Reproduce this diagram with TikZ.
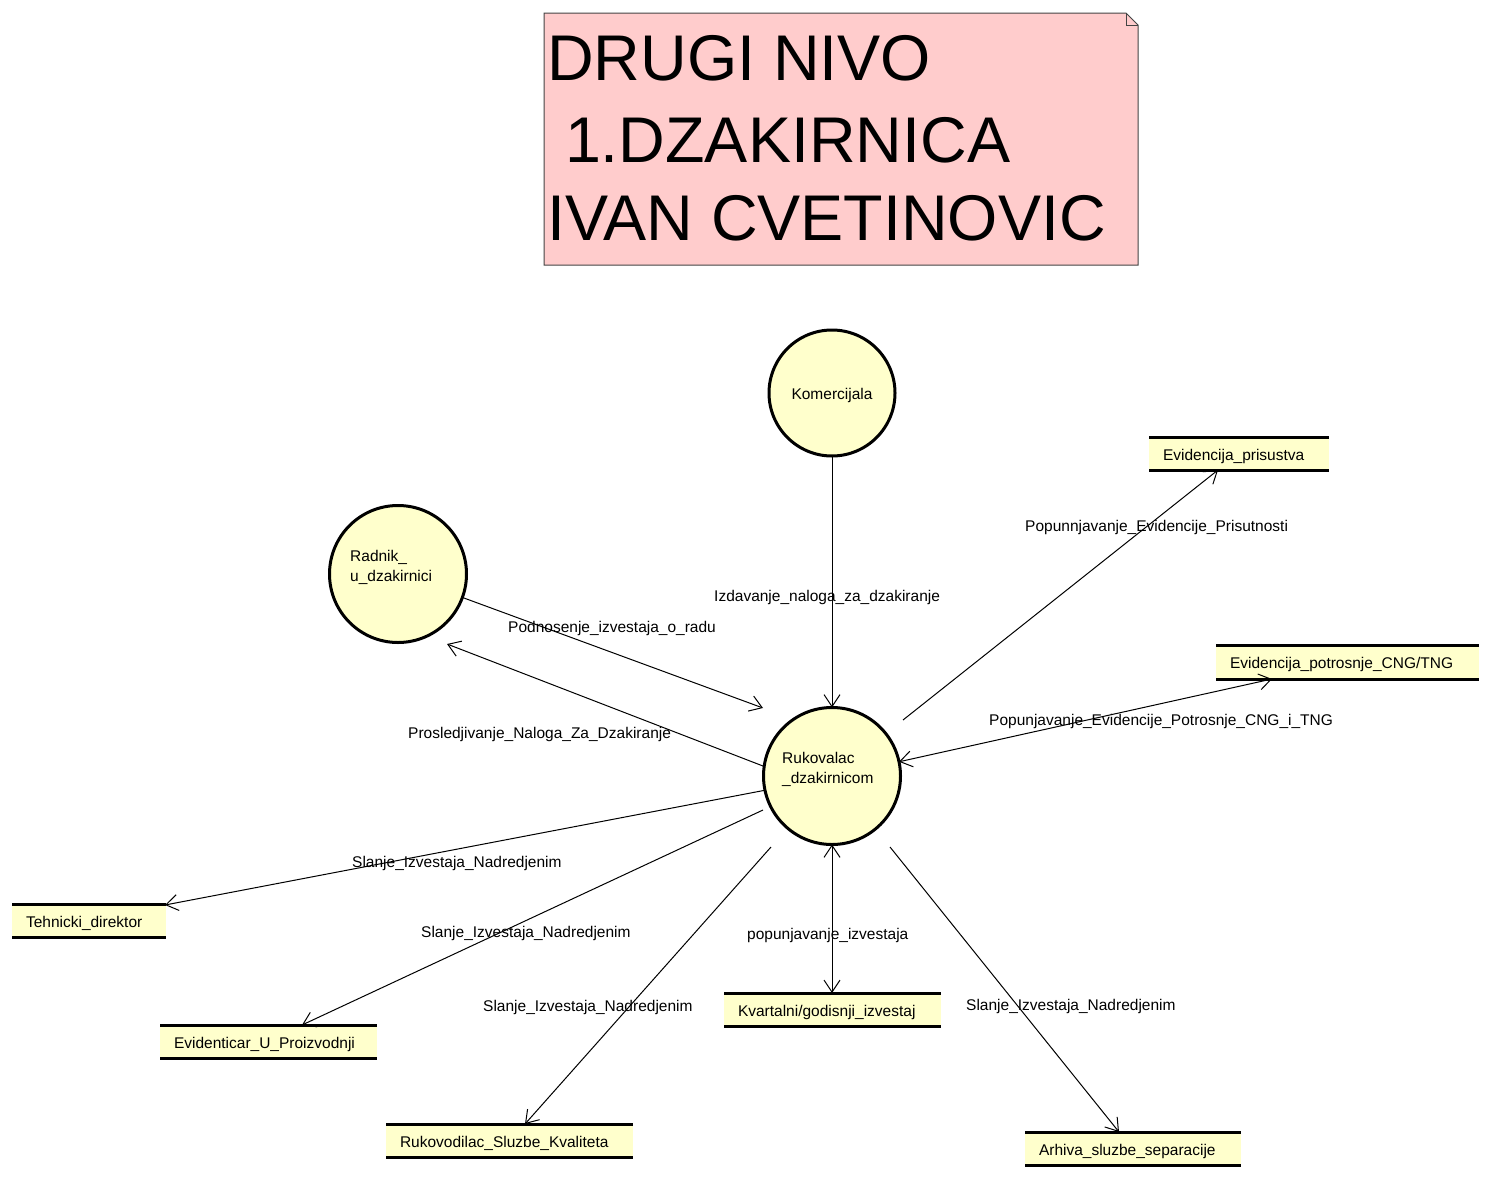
\documentclass[tikz,border=0pt]{standalone}
\usepackage{fontspec}
\setmainfont{Liberation Sans}
\usetikzlibrary{arrows.meta}
\definecolor{notefill}{HTML}{FFCCCC}
\definecolor{bubble}{HTML}{FFFFCC}
\definecolor{notedraw}{HTML}{444444}
\begin{document}
\begin{tikzpicture}[x=1pt,y=-1pt,
  smalltext/.style={font=\fontsize{15.5}{20}\selectfont},
  proc/.style={circle, draw=black, line width=3pt, fill=bubble, inner sep=0pt, outer sep=0pt},
  store/.style={fill=bubble, anchor=north west, inner xsep=14pt, inner ysep=0pt, outer sep=0pt, align=left, text height=13.5pt, text depth=0pt, smalltext},
  storeline/.style={line width=3pt, line cap=butt},
  lbl/.style={anchor=west, inner sep=0pt, smalltext},
  ptext/.style={anchor=west, inner sep=0pt, align=left, smalltext},
  titletext/.style={anchor=base west, inner sep=0pt, font=\fontsize{64.6}{80}\selectfont},
  flow/.style={line width=1pt, -{Straight Barb[length=12pt,width=16pt,line width=1pt]}},
  flowboth/.style={line width=1pt, {Straight Barb[length=12pt,width=16pt,line width=1pt]}-{Straight Barb[length=12pt,width=16pt,line width=1pt]}},
]
\useasboundingbox (0,0) rectangle (1492,1178);
\fill[white] (0,0) rectangle (1492,1178);

% title note
\draw[notedraw, line width=1pt, fill=notefill] (544,13) -- (1126,13) -- (1138,25) -- (1138,265) -- (544,265) -- cycle;
\draw[notedraw, line width=0.8pt] (1126,13) -- (1126,25) -- (1138,25);
\node[titletext] (t1) at (547,80) {DRUGI NIVO};
\node[titletext] (t2) at (547,162) {\hspace*{17.8pt}1.DZAKIRNICA};
\node[titletext] (t3) at (547,240) {IVAN CVETINOVIC};

% processes
\node[proc, minimum size=126pt] (kom) at (832,393) {};
\node[smalltext, inner sep=0pt] (komt) at (832,395) {Komercijala};
\node[proc, minimum size=137pt] (rad) at (398,574) {};
\node[ptext] (radt) at (350,567) {Radnik\_\\u\_dzakirnici};
\node[proc, minimum size=137pt] (ruk) at (832,776) {};
\node[ptext] (rukt) at (782,769) {Rukovalac\\\_dzakirnicom};

% data stores
\node[store, minimum height=33pt, text width=152pt] (evp) at (1149,437) {Evidencija\_prisustva};
\node[store, minimum height=34pt, text width=235pt] (ecng) at (1216,645) {Evidencija\_potrosnje\_CNG/TNG};
\node[store, minimum height=33pt, text width=126pt] (teh) at (12,904) {Tehnicki\_direktor};
\node[store, minimum height=33pt, text width=189pt] (evi) at (160,1025) {Evidenticar\_U\_Proizvodnji};
\node[store, minimum height=33pt, text width=219pt] (rsk) at (386,1124) {Rukovodilac\_Sluzbe\_Kvaliteta};
\node[store, minimum height=33pt, text width=189pt] (kvr) at (724,993) {Kvartalni/godisnji\_izvestaj};
\node[store, minimum height=33pt, text width=188pt] (arh) at (1025,1132) {Arhiva\_sluzbe\_separacije};
\foreach \s in {evp,ecng,teh,evi,rsk,kvr,arh}{
  \draw[storeline] (\s.north west) -- (\s.north east);
  \draw[storeline] (\s.south west) -- (\s.south east);
}

% free connector ends
\coordinate (a2) at (763,708);
\coordinate (a3) at (447,644);
\coordinate (s4) at (903,720);
\coordinate (a4) at (1218,470);
\coordinate (a5) at (1272,679);
\coordinate (a6) at (165,905);
\coordinate (s7) at (763,810);
\coordinate (a7) at (302,1025);
\coordinate (s8) at (771,847);
\coordinate (a8) at (525,1124);
\coordinate (a9) at (832,993);
\coordinate (s10) at (890,847);
\coordinate (a10) at (1119,1132);

% connectors
\draw[flow] (kom.south) -- (ruk.north);
\draw[flow] (rad.-20) -- (a2);
\draw[flow] (ruk.172) -- (a3);
\draw[flow] (s4) -- (a4);
\draw[flowboth] (ruk.12) -- (a5);
\draw[flow] (ruk.192) -- (a6);
\draw[flow] (s7) -- (a7);
\draw[flow] (s8) -- (a8);
\draw[flowboth] (ruk.south) -- (a9);
\draw[flow] (s10) -- (a10);

% labels
\node[lbl] (l1) at (714,597) {Izdavanje\_naloga\_za\_dzakiranje};
\node[lbl] (l2) at (508,628) {Podnosenje\_izvestaja\_o\_radu};
\node[lbl] (l3) at (408,734) {Prosledjivanje\_Naloga\_Za\_Dzakiranje};
\node[lbl] (l4) at (1025,527) {Popunnjavanje\_Evidencije\_Prisutnosti};
\node[lbl] (l5) at (989,721) {Popunjavanje\_Evidencije\_Potrosnje\_CNG\_i\_TNG};
\node[lbl] (l6) at (352,863) {Slanje\_Izvestaja\_Nadredjenim};
\node[lbl] (l7) at (421,933) {Slanje\_Izvestaja\_Nadredjenim};
\node[lbl] (l8) at (483,1007) {Slanje\_Izvestaja\_Nadredjenim};
\node[lbl] (l9) at (747,935) {popunjavanje\_izvestaja};
\node[lbl] (l10) at (966,1006) {Slanje\_Izvestaja\_Nadredjenim};
\end{tikzpicture}
\end{document}
